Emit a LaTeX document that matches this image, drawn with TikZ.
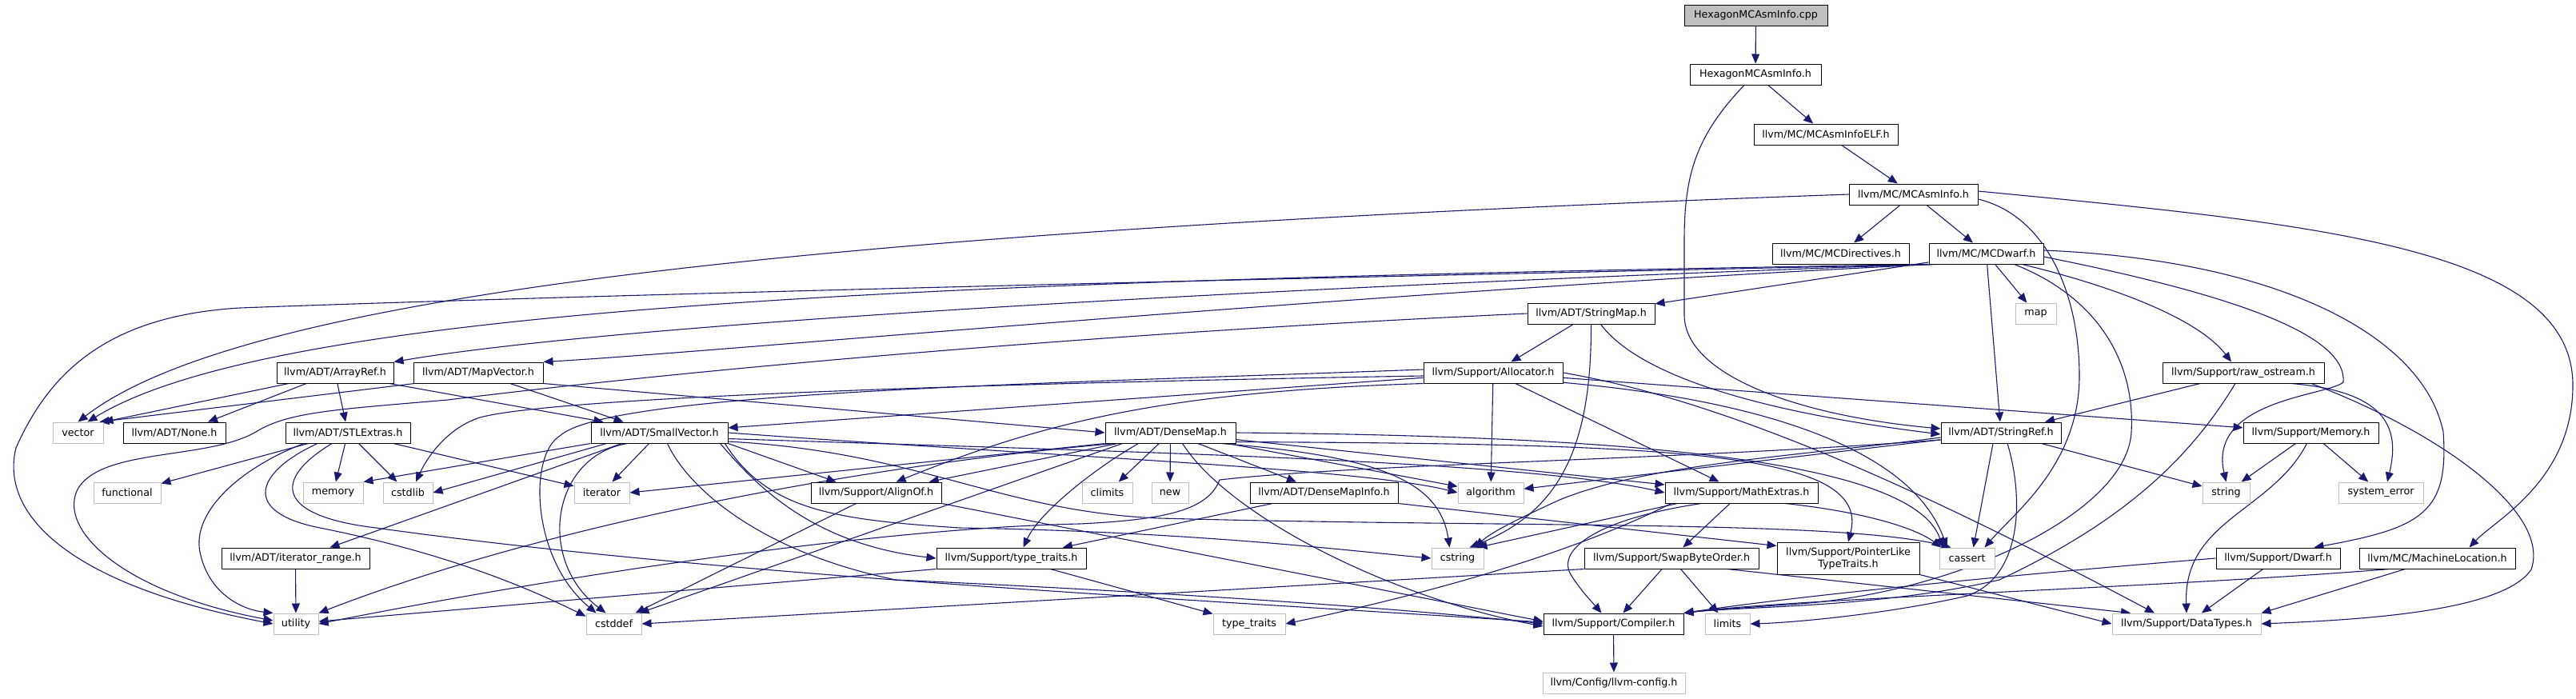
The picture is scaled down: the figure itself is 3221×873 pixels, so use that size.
\documentclass[tikz,border=0pt]{standalone}
\usepackage{fontspec}
\setmainfont{DejaVu Sans}
\usetikzlibrary{arrows.meta}
\definecolor{edgeblue}{HTML}{191970}
\definecolor{sysgray}{HTML}{BFBFBF}
\pgfdeclarelayer{bg}
\pgfdeclarelayer{edges}
\pgfsetlayers{bg,edges,main}
\tikzset{
  box/.style={rectangle, minimum height=26pt, inner xsep=3pt, inner ysep=2pt, fill=white, line width=1pt, font=\fontsize{12.7pt}{15pt}\selectfont},
  proj/.style={box, draw=black},
  sys/.style={box, draw=sysgray},
  mainfile/.style={box, draw=black, fill=sysgray},
  dep/.style={draw=edgeblue, line width=1.1pt, -{Triangle[length=12pt,width=10pt]}},
}
\begin{document}
\begin{tikzpicture}[x=1pt,y=-1pt]
\useasboundingbox (0,0) rectangle (3221,873);
\begin{pgfonlayer}{bg}
\fill[white] (0,0) rectangle (3221,873);
\end{pgfonlayer}
% nodes
\node[mainfile, minimum width=179pt] (cpp) at (2195.5,19) {HexagonMCAsmInfo.cpp};
\node[proj, minimum width=164pt] (hmai) at (2195,93) {HexagonMCAsmInfo.h};
\node[proj, minimum width=180pt] (elf) at (2283,168) {llvm/MC/MCAsmInfoELF.h};
\node[proj, minimum width=161pt] (mai) at (2392.5,243) {llvm/MC/MCAsmInfo.h};
\node[proj, minimum width=171pt] (dir) at (2301.5,317) {llvm/MC/MCDirectives.h};
\node[proj, minimum width=143pt] (dwarf) at (2483.5,317) {llvm/MC/MCDwarf.h};
\node[proj, minimum width=159pt] (smap) at (1989.5,392) {llvm/ADT/StringMap.h};
\node[sys, minimum width=51pt] (map) at (2545.5,392) {map};
\node[proj, minimum width=146pt] (aref) at (419,466) {llvm/ADT/ArrayRef.h};
\node[proj, minimum width=162pt] (mvec) at (598,466) {llvm/ADT/MapVector.h};
\node[proj, minimum width=174pt] (alloc) at (1867,466) {llvm/Support/Allocator.h};
\node[proj, minimum width=202pt] (raw) at (2805,466) {llvm/Support/raw\_ostream.h};
\node[sys, minimum width=63pt] (vector) at (97.5,541) {vector};
\node[proj, minimum width=128pt] (none) at (218,541) {llvm/ADT/None.h};
\node[proj, minimum width=156pt] (stl) at (435,541) {llvm/ADT/STLExtras.h};
\node[proj, minimum width=171pt] (svec) at (824.5,541) {llvm/ADT/SmallVector.h};
\node[proj, minimum width=163pt] (dmap) at (1463.5,541) {llvm/ADT/DenseMap.h};
\node[proj, minimum width=150pt] (sref) at (2502,541) {llvm/ADT/StringRef.h};
\node[proj, minimum width=169pt] (mem) at (2889.5,541) {llvm/Support/Memory.h};
\node[sys, minimum width=84pt] (functional) at (159,616) {functional};
\node[sys, minimum width=75pt] (memory) at (416.5,616) {memory};
\node[sys, minimum width=62pt] (cstdlib) at (510,616) {cstdlib};
\node[sys, minimum width=69pt] (iterator) at (752.5,616) {iterator};
\node[proj, minimum width=163pt] (alignof) at (1095.5,616) {llvm/Support/AlignOf.h};
\node[sys, minimum width=63pt] (climits) at (1384.5,616) {climits};
\node[sys, minimum width=46pt] (new) at (1463,616) {new};
\node[proj, minimum width=185pt] (dmi) at (1655.5,616) {llvm/ADT/DenseMapInfo.h};
\node[sys, minimum width=82pt] (algorithm) at (1864,616) {algorithm};
\node[proj, minimum width=191pt] (math) at (2177.5,616) {llvm/Support/MathExtras.h};
\node[sys, minimum width=59pt] (string) at (2783.5,616) {string};
\node[sys, minimum width=106pt] (syserr) at (2977,616) {system\_error};
\node[proj, minimum width=185pt] (irange) at (369.5,698) {llvm/ADT/iterator\_range.h};
\node[proj, minimum width=187pt] (ttraitsh) at (1264.5,698) {llvm/Support/type\_traits.h};
\node[sys, minimum width=65pt] (cstring) at (1822.5,698) {cstring};
\node[proj, minimum width=218pt] (swap) at (2090,698) {llvm/Support/SwapByteOrder.h};
\node[proj, minimum width=178pt, minimum height=40pt, align=center] (plt) at (2311,698) {llvm/Support/PointerLike\\TypeTraits.h};
\node[sys, minimum width=69pt] (cassert) at (2459.5,698) {cassert};
\node[proj, minimum width=155pt] (dwarfh) at (2848.5,698) {llvm/Support/Dwarf.h};
\node[proj, minimum width=195pt] (mloc) at (3047.5,698) {llvm/MC/MachineLocation.h};
\node[sys, minimum width=56pt] (utility) at (370,780) {utility};
\node[sys, minimum width=69pt] (cstddef) at (767.5,780) {cstddef};
\node[sys, minimum width=90pt] (typetraits) at (1562,780) {type\_traits};
\node[proj, minimum width=175pt] (compiler) at (2017.5,780) {llvm/Support/Compiler.h};
\node[sys, minimum width=56pt] (limits) at (2160,780) {limits};
\node[sys, minimum width=186pt] (datatypes) at (2734,780) {llvm/Support/DataTypes.h};
\node[sys, minimum width=178pt] (config) at (2018,854) {llvm/Config/llvm-config.h};
% edges
\begin{pgfonlayer}{edges}
% top chain
\draw[dep] (cpp) -- (hmai);
\draw[dep] (hmai) -- (elf);
\draw[dep] ([xshift=-14pt]hmai.south) .. controls (2120,170) and (2106,220) .. (2106,300) -- (2106,395) .. controls (2108,470) and (2250,520) .. ([yshift=5pt]sref.west);
\draw[dep] (elf) -- (mai);
\draw[dep] (mai) -- (dir);
\draw[dep] (mai) -- (dwarf);
\draw[dep] (mai.west) .. controls (1000,290) and (300,370) .. (vector.north);
\draw[dep] ([yshift=-6pt]mai.east) .. controls (2560,270) and (2600,370) .. (2600,470) .. controls (2600,580) and (2520,640) .. ([xshift=22pt]cassert.north);
\draw[dep] ([yshift=4pt]mai.east) .. controls (2900,280) and (3215,310) .. (3217,480) .. controls (3218,600) and (3120,650) .. ([xshift=40pt]mloc.north);
% MCDwarf
\draw[dep] (dwarf.south west) .. controls (1700,355) and (800,400) .. (aref.north east);
\draw[dep] ([xshift=6pt]dwarf.south west) .. controls (1700,365) and (900,440) .. (mvec.north east);
\draw[dep] (dwarf) -- (smap);
\draw[dep] (dwarf) -- (sref);
\draw[dep] (dwarf) -- (map);
\draw[dep] ([xshift=45pt]dwarf.south) .. controls (2650,360) and (2750,400) .. ([xshift=-15pt]raw.north);
\draw[dep] ([xshift=35pt]dwarf.south) .. controls (2620,370) and (2670,450) .. (2665,540) .. controls (2660,640) and (2450,740) .. (2250,755) .. controls (2180,760) and (2130,763) .. (compiler.north east);
\draw[dep] ([yshift=-4pt]dwarf.east) .. controls (2800,370) and (2935,420) .. (2930,478) .. controls (2910,495) and (2760,500) .. (string.north);
\draw[dep] ([yshift=4pt]dwarf.east) .. controls (2850,325) and (3030,420) .. (3055,540) .. controls (3062,640) and (3030,660) .. ([xshift=45pt]dwarfh.north);
\draw[dep] ([xshift=12pt]dwarf.south west) .. controls (1500,350) and (700,370) .. (300,385) .. controls (130,395) and (60,470) .. (20,560) .. controls (0,640) and (80,730) .. (utility.west);
\draw[dep] ([xshift=3pt]dwarf.south west) .. controls (1200,350) and (350,380) .. ([xshift=12pt]vector.north);
% StringMap
\draw[dep] (smap) -- (alloc);
\draw[dep] ([xshift=12pt]smap.south) .. controls (2050,470) and (2200,515) .. ([yshift=-2pt]sref.west);
\draw[dep] (smap.south) .. controls (1990,560) and (1950,640) .. ([xshift=15pt]cstring.north);
\draw[dep] (smap.west) .. controls (1300,420) and (800,470) .. (560,500) .. controls (420,512) and (360,515) .. (320,540) .. controls (260,575) and (130,560) .. (98,610) .. controls (70,660) and (150,740) .. ([yshift=4pt]utility.west);
% raw_ostream
\draw[dep] ([xshift=-54pt]raw.south) -- ([xshift=55pt]sref.north);
\draw[dep] ([xshift=-10pt]raw.south) .. controls (2740,570) and (2660,650) .. (2500,725) .. controls (2350,760) and (2180,758) .. (compiler.north east);
\draw[dep] ([xshift=85pt]raw.south) .. controls (3050,540) and (3190,640) .. (3165,712) .. controls (3130,765) and (2950,775) .. (datatypes.east);
\draw[dep] ([xshift=60pt]raw.south) .. controls (2990,490) and (3000,540) .. ([xshift=8pt]syserr.north);
% ArrayRef
\draw[dep] ([xshift=-58pt]aref.south) -- (vector.north east);
\draw[dep] ([xshift=-36pt]aref.south) -- ([xshift=42pt]none.north);
\draw[dep] (aref) -- (stl);
\draw[dep] ([xshift=68pt]aref.south) -- ([xshift=-70pt]svec.north);
% MapVector
\draw[dep] ([xshift=-80pt]mvec.south) -- ([xshift=-5pt]vector.north east);
\draw[dep] ([xshift=40pt]mvec.south) -- ([xshift=-45pt]svec.north);
\draw[dep] (mvec.south east) -- (dmap.west);
% Allocator
\draw[dep] (alloc) -- (svec);
\draw[dep] (alloc.south west) .. controls (1450,490) and (1300,530) .. ([xshift=25pt]alignof.north);
\draw[dep] (alloc.east) .. controls (2150,500) and (2380,600) .. ([xshift=-40pt]datatypes.north);
\draw[dep] (alloc) -- (math);
\draw[dep] (alloc) -- (mem);
\draw[dep] (alloc) -- (algorithm);
\draw[dep] (alloc.-8) .. controls (2200,500) and (2390,560) .. ([xshift=-25pt]cassert.north);
\draw[dep] ([yshift=4pt]alloc.west) .. controls (1300,480) and (760,490) .. (700,545) .. controls (660,570) and (665,700) .. ([xshift=-22pt]cstddef.north);
\draw[dep] ([yshift=-4pt]alloc.west) .. controls (1300,478) and (700,495) .. (600,522) .. controls (560,535) and (535,570) .. ([xshift=10pt]cstdlib.north);
% STLExtras
\draw[dep] (stl) -- (functional);
\draw[dep] (stl) -- (memory);
\draw[dep] (stl) -- (cstdlib);
\draw[dep] (stl) -- (iterator);
\draw[dep] ([xshift=-55pt]stl.south) .. controls (300,585) and (240,640) .. (250,690) .. controls (260,740) and (300,762) .. (utility.north west);
\draw[dep] ([xshift=-38pt]stl.south) .. controls (320,590) and (300,640) .. (400,660) .. controls (550,690) and (650,730) .. (cstddef.165);
\draw[dep] ([xshift=-20pt]stl.south) .. controls (340,600) and (345,645) .. (470,660) .. controls (900,720) and (1500,750) .. ([yshift=2pt]compiler.west);
% SmallVector
\draw[dep] (svec.south west) -- (memory.north east);
\draw[dep] ([xshift=20pt]svec.south west) -- (cstdlib.east);
\draw[dep] (svec) -- (iterator);
\draw[dep] ([xshift=-47pt]svec.south) -- ([xshift=43pt]irange.north);
\draw[dep] ([xshift=-40pt]svec.south) .. controls (690,570) and (670,700) .. ([xshift=-10pt]cstddef.north);
\draw[dep] ([xshift=10pt]svec.south) .. controls (860,610) and (950,690) .. (1120,725) .. controls (1450,740) and (1750,760) .. (compiler.west);
\draw[dep] ([xshift=-10pt]svec.south east) .. controls (940,600) and (1010,680) .. (ttraitsh.west);
\draw[dep] (svec.east) .. controls (1300,570) and (1700,585) .. (algorithm.west);
\draw[dep] (svec.-5) .. controls (1400,565) and (1900,575) .. (math.west);
\draw[dep] ([yshift=-11pt]svec.east) .. controls (1150,565) and (1250,640) .. (1450,648) .. controls (1900,660) and (2300,650) .. ([xshift=-20pt]cassert.north);
\draw[dep] ([xshift=-4pt]svec.south east) .. controls (960,640) and (1050,650) .. (1200,660) .. controls (1500,665) and (1700,690) .. (cstring.west);
\draw[dep] (svec.south east) -- ([xshift=-50pt]alignof.north);
% DenseMap
\draw[dep] (dmap) -- (dmi);
\draw[dep] (dmap) -- (alignof);
\draw[dep] (dmap) -- (climits);
\draw[dep] (dmap) -- (new);
\draw[dep] ([xshift=-40pt]dmap.south) .. controls (1370,585) and (1300,640) .. ([xshift=15pt]ttraitsh.north);
\draw[dep] ([xshift=15pt]dmap.south) .. controls (1540,650) and (1750,750) .. ([yshift=-3pt]compiler.west);
\draw[dep] (dmap) -- (math);
\draw[dep] (dmap.-8) .. controls (2100,555) and (2340,565) .. (plt.north);
\draw[dep] (dmap) -- (algorithm);
\draw[dep] (dmap.-12) .. controls (1720,570) and (1800,600) .. ([xshift=-10pt]cstring.north);
\draw[dep] (dmap.east) .. controls (2000,545) and (2390,570) .. ([xshift=-30pt]cassert.north);
\draw[dep] ([xshift=-60pt]dmap.south) -- ([xshift=-3pt]cstddef.north east);
\draw[dep] (dmap.south west) -- (iterator.east);
\draw[dep] ([xshift=-70pt]dmap.south) .. controls (1100,580) and (700,650) .. (utility.north east);
% StringRef
\draw[dep] (sref) -- (algorithm);
\draw[dep] ([yshift=-6pt]sref.west) .. controls (2250,570) and (2060,580) .. (1950,625) .. controls (1900,648) and (1865,665) .. ([xshift=22pt]cstring.north);
\draw[dep] ([xshift=-10pt]sref.south) -- ([xshift=8pt]cassert.north);
\draw[dep] ([xshift=8pt]sref.south) .. controls (2530,620) and (2530,720) .. (2460,745) .. controls (2350,770) and (2230,779) .. (limits.east);
\draw[dep] (sref) -- (string);
\draw[dep] ([yshift=-9pt]sref.west) .. controls (2100,575) and (1700,580) .. (1525,600) .. controls (1510,640) and (1450,650) .. (1350,655) .. controls (1100,660) and (700,720) .. (utility.east);
% Memory
\draw[dep] (mem) -- (string);
\draw[dep] ([xshift=-5pt]mem.south) .. controls (2840,640) and (2730,650) .. (datatypes.north);
\draw[dep] (mem) -- (syserr);
% AlignOf
\draw[dep] (alignof.south east) -- ([yshift=3pt]compiler.west);
\draw[dep] ([xshift=-25pt]alignof.south) -- ([xshift=-8pt]cstddef.north east);
% DenseMapInfo
\draw[dep] (dmi.south east) -- ([yshift=-5pt]plt.north west);
\draw[dep] (dmi) -- (ttraitsh);
% MathExtras
\draw[dep] (math) -- (swap);
\draw[dep] ([xshift=-50pt]math.south) .. controls (1990,650) and (1945,690) .. (1965,720) .. controls (1978,740) and (1990,752) .. ([xshift=-15pt]compiler.north);
\draw[dep] ([xshift=55pt]math.south) .. controls (2330,640) and (2395,660) .. ([xshift=-32pt]cassert.north);
\draw[dep] ([xshift=-80pt]math.south) -- ([xshift=25pt]cstring.north);
\draw[dep] ([xshift=-88pt]math.south) .. controls (1950,700) and (1750,750) .. (typetraits.east);
% type_traits.h
\draw[dep] (ttraitsh) -- (typetraits);
\draw[dep] (ttraitsh.south west) -- ([yshift=3pt]utility.east);
% iterator_range
\draw[dep] (irange) -- (utility);
% SwapByteOrder
\draw[dep] (swap) -- (compiler);
\draw[dep] (swap) -- (limits);
\draw[dep] ([xshift=70pt]swap.south) -- ([xshift=-70pt]datatypes.north);
\draw[dep] (swap.south west) -- (cstddef.east);
% PointerLikeTypeTraits
\draw[dep] (plt.south east) -- (datatypes.west);
% Dwarf.h
\draw[dep] (dwarfh) -- (datatypes);
\draw[dep] (dwarfh.west) .. controls (2500,720) and (2250,745) .. (compiler.north east);
% MachineLocation
\draw[dep] ([xshift=-40pt]mloc.south) -- (datatypes.north east);
\draw[dep] ([xshift=-60pt]mloc.south) .. controls (2700,735) and (2250,748) .. (compiler.north east);
% Compiler
\draw[dep] (compiler) -- (config);
\end{pgfonlayer}
\end{tikzpicture}
\end{document}
